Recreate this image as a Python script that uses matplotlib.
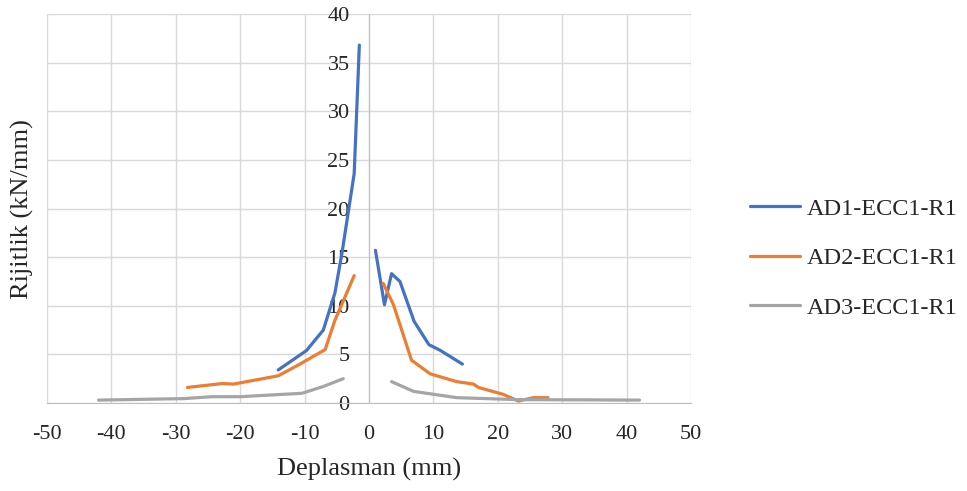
import numpy as np
import matplotlib
matplotlib.use("Agg")
import matplotlib.pyplot as plt

# Stiffness vs displacement for three specimens (left / right branches separated by NaN)
ad1_x = [-14.1, -9.7, -7.1, -5.3, -4.2, -2.3, -1.5, np.nan,
         1.0, 2.4, 3.5, 4.8, 7.0, 9.3, 11.1, 14.5]
ad1_y = [3.4, 5.4, 7.5, 11.3, 15.4, 23.6, 36.8, np.nan,
         15.7, 10.1, 13.3, 12.5, 8.4, 6.0, 5.4, 4.0]

ad2_x = [-28.2, -22.8, -21.0, -14.1, -11.0, -6.8, -5.3, -2.3, np.nan,
         2.2, 3.8, 6.6, 9.5, 13.6, 16.2, 17.0, 20.8, 23.2, 25.5, 27.8]
ad2_y = [1.6, 2.0, 1.95, 2.8, 3.9, 5.5, 8.5, 13.1, np.nan,
         12.3, 10.1, 4.4, 3.0, 2.2, 1.95, 1.6, 0.9, 0.2, 0.55, 0.55]

ad3_x = [-42.0, -28.8, -24.4, -20.0, -10.4, -7.1, -4.0, np.nan,
         3.5, 6.9, 13.6, 23.0, 42.0]
ad3_y = [0.3, 0.45, 0.65, 0.65, 1.0, 1.7, 2.5, np.nan,
         2.2, 1.2, 0.55, 0.35, 0.3]

series_names = ["AD1-ECC1-R1", "AD2-ECC1-R1", "AD3-ECC1-R1"]
x_ticks = list(range(-50, 51, 10))
y_ticks = list(range(0, 41, 5))

plt.rcParams['font.family'] = ['Liberation Serif', 'DejaVu Serif']
plt.rcParams['axes.unicode_minus'] = False

fig = plt.figure(figsize=(9.67, 4.91), dpi=100)
ax = fig.add_axes([0.0486, 0.1792, 0.666, 0.7923])

colors = ["#4472C4", "#ED7D31", "#A5A5A5"]
for xs, ys, c, name in zip([ad1_x, ad2_x, ad3_x], [ad1_y, ad2_y, ad3_y], colors, series_names):
    ax.plot(xs, ys, color=c, lw=2.3, label=name, solid_capstyle='round', solid_joinstyle='round')

ax.set_xlim(-50, 50)
ax.set_ylim(0, 40)
ax.set_xticks(x_ticks)
ax.set_yticks(y_ticks)
ax.grid(True, color="#D9D9D9", lw=1.0)
ax.set_axisbelow(True)

for s in ["top", "right"]:
    ax.spines[s].set_visible(False)
ax.spines["left"].set_position(("data", 0))
ax.spines["left"].set_color("#BFBFBF")
ax.spines["bottom"].set_color("#BFBFBF")
ax.tick_params(axis="both", length=0, labelsize=16)
ax.tick_params(axis="x", pad=16)
ax.tick_params(axis="y", pad=14)
for lbl in ax.get_xticklabels() + ax.get_yticklabels():
    lbl.set_color("#262626")

ax.set_xlabel("Deplasman (mm)", fontsize=19, color="#262626", labelpad=10)
fig.text(0.023, 0.575, "Rijitlik (kN/mm)", rotation=90, fontsize=19,
         color="#262626", ha="center", va="center")

leg = ax.legend(loc="center left", bbox_to_anchor=(1.0916, 0.372), frameon=False,
                fontsize=17.5, handlelength=2.05, handletextpad=0.3, labelspacing=1.13,
                borderaxespad=0, borderpad=0)
for t in leg.get_texts():
    t.set_color("#262626")

fig.savefig("out.png", dpi=100)
